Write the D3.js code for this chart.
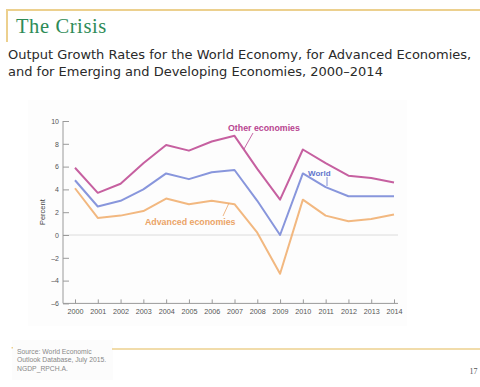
<!DOCTYPE html>
<html>
<head>
<meta charset="utf-8">
<script src="https://cdn.jsdelivr.net/npm/d3@7/dist/d3.min.js"></script>
<style>
  html, body { margin: 0; padding: 0; background: #fff; }
  svg { display: block; }
</style>
</head>
<body>
<script>
// Output growth rates (percent), 2000–2014
const years = [2000, 2001, 2002, 2003, 2004, 2005, 2006, 2007, 2008, 2009, 2010, 2011, 2012, 2013, 2014];
const otherEconomies = [5.9, 3.7, 4.5, 6.3, 7.9, 7.4, 8.2, 8.7, 5.8, 3.1, 7.5, 6.3, 5.2, 5.0, 4.6];
const world = [4.8, 2.5, 3.0, 4.0, 5.4, 4.9, 5.5, 5.7, 3.0, 0.0, 5.4, 4.2, 3.4, 3.4, 3.4];
const advancedEconomies = [4.1, 1.5, 1.7, 2.1, 3.2, 2.7, 3.0, 2.7, 0.2, -3.4, 3.1, 1.7, 1.2, 1.4, 1.8];
const yTicks = [10, 8, 6, 4, 2, 0, -2, -4, -6];

const W = 480, H = 387;
const svg = d3.select("body").append("svg").attr("width", W).attr("height", H);

// Slide frame: gold rules
const gold = "#ecd08e";
svg.append("line").attr("x1", 6).attr("x2", W).attr("y1", 10).attr("y2", 10)
  .attr("stroke", gold).attr("stroke-width", 2);
svg.append("line").attr("x1", 7).attr("x2", 7).attr("y1", 10).attr("y2", 42)
  .attr("stroke", gold).attr("stroke-width", 2);

svg.append("text").attr("x", 16).attr("y", 33)
  .attr("font-family", "Liberation Serif, serif").attr("font-size", 20.5)
  .attr("letter-spacing", 0.6)
  .attr("fill", "#2e8b57").text("The Crisis");

const sub = svg.append("text").attr("font-family", "DejaVu Sans, sans-serif")
  .attr("font-size", 13).attr("fill", "#2a2a2a");
sub.append("tspan").attr("x", 8).attr("y", 58.5)
  .text("Output Growth Rates for the World Economy, for Advanced Economies,");
sub.append("tspan").attr("x", 8).attr("y", 76)
  .text("and for Emerging and Developing Economies, 2000–2014");

// Chart panel background
svg.append("rect").attr("x", 28).attr("y", 100).attr("width", 379).attr("height", 226)
  .attr("fill", "#fdfdfd");

const x = d3.scalePoint().domain(years).range([75, 394]);
const y = d3.scaleLinear().domain([-6, 10]).range([303.4, 121]);
const axisColor = "#9a9a9a";
const labelFont = "Liberation Sans, Arial, sans-serif";

// Zero line
svg.append("line").attr("x1", 63).attr("x2", 398).attr("y1", y(0)).attr("y2", y(0))
  .attr("stroke", "#dcdcdc").attr("stroke-width", 1);

// Y axis (ticks point inward)
const yAxis = svg.append("g").attr("transform", "translate(63,0)")
  .call(d3.axisRight(y).tickValues(yTicks).tickSize(6).tickFormat(d => d < 0 ? "–" + Math.abs(d) : d));
yAxis.select(".domain").attr("stroke", axisColor).attr("d", `M0,${y(10)}V${y(-6)}`);
yAxis.selectAll(".tick line").attr("stroke", axisColor);
yAxis.selectAll(".tick text").attr("x", -4).attr("text-anchor", "end")
  .attr("font-family", labelFont).attr("font-size", 7).attr("fill", "#555");

// X axis (ticks point up)
const xAxis = svg.append("g").attr("transform", `translate(0,${y(-6)})`)
  .call(d3.axisTop(x).tickSize(4).tickFormat(d => d));
xAxis.select(".domain").attr("stroke", axisColor).attr("d", `M63,0H398`);
xAxis.selectAll(".tick line").attr("stroke", axisColor);
xAxis.selectAll(".tick text").attr("y", 8.5).attr("dy", "0.35em")
  .attr("font-family", labelFont).attr("font-size", 7.2).attr("fill", "#555");

svg.append("text").attr("transform", `translate(45,${(y(10) + y(-6)) / 2}) rotate(-90)`)
  .attr("text-anchor", "middle").attr("font-family", labelFont).attr("font-size", 7.5)
  .attr("fill", "#444").text("Percent");

// Series lines
const series = [
  { name: "Advanced economies", values: advancedEconomies, color: "#f2b880" },
  { name: "World", values: world, color: "#8896dc" },
  { name: "Other economies", values: otherEconomies, color: "#c660a0" }
];
const line = d3.line().x((d, i) => x(years[i])).y(d => y(d));
svg.selectAll("path.series").data(series).enter().append("path")
  .attr("class", "series")
  .attr("d", d => line(d.values))
  .attr("fill", "none").attr("stroke", d => d.color).attr("stroke-width", 2)
  .attr("stroke-linejoin", "round");

// Series labels with leaders
function label(txt, lx, ly, size, color, lead) {
  svg.append("text").attr("x", lx).attr("y", ly).attr("dy", "0.35em")
    .attr("font-family", labelFont).attr("font-weight", "bold").attr("font-size", size)
    .attr("fill", color).text(txt);
  svg.append("line").attr("x1", lead[0]).attr("y1", lead[1]).attr("x2", lead[2]).attr("y2", lead[3])
    .attr("stroke", color).attr("stroke-width", 0.8);
}
label("Other economies", 228, 127.5, 8.8, "#b84590", [253, 133, 244, 149]);
label("World", 308, 173, 8, "#6275cc", [327, 177, 327, 186]);
label("Advanced economies", 145, 222, 8.8, "#eba467", [223, 216, 229, 203]);

// Footer
svg.append("rect").attr("x", 12).attr("y", 340).attr("width", 101).attr("height", 40).attr("fill", "#fcfcfc");
svg.append("line").attr("x1", 112).attr("x2", W).attr("y1", 349).attr("y2", 349)
  .attr("stroke", gold).attr("stroke-width", 1.6);
svg.append("rect").attr("x", 11.5).attr("y", 347).attr("width", 1.5).attr("height", 1.5).attr("fill", gold);
const src = svg.append("text").attr("font-family", labelFont).attr("font-size", 6.8).attr("fill", "#888");
["Source: World Economic", "Outlook Database, July 2015.", "NGDP_RPCH.A."].forEach((t, i) => {
  src.append("tspan").attr("x", 17).attr("y", 353.5 + i * 8.8).text(t);
});
svg.append("text").attr("x", 477.5).attr("y", 374).attr("text-anchor", "end")
  .attr("font-family", "Liberation Serif, serif").attr("font-size", 8).attr("fill", "#555").text("17");
</script>
</body>
</html>
